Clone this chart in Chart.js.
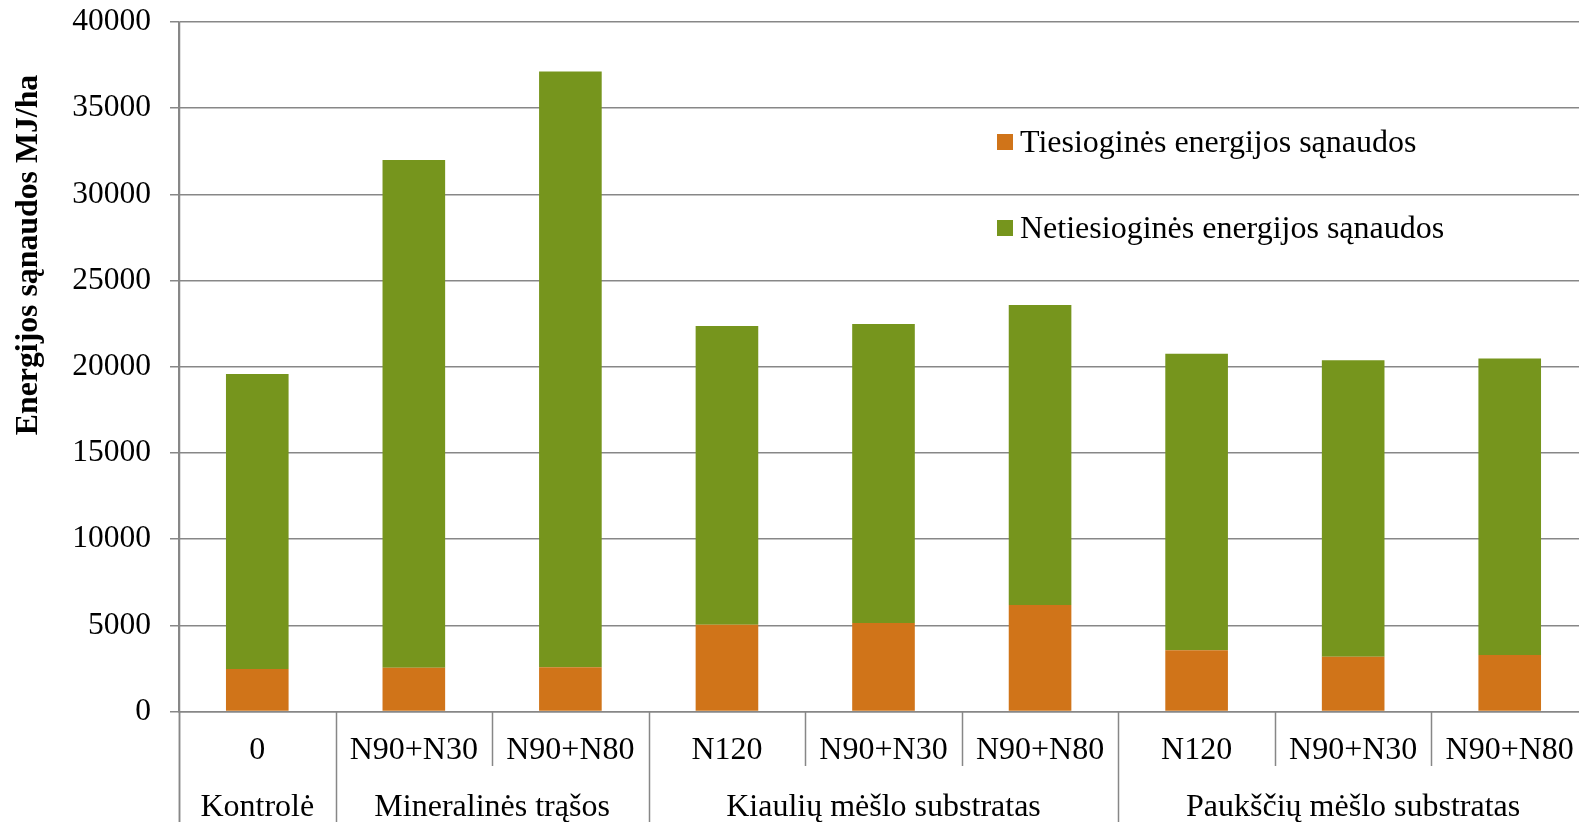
<!DOCTYPE html>
<html lang="lt">
<head>
<meta charset="utf-8">
<title>Energijos sąnaudos</title>
<script src="https://cdn.jsdelivr.net/npm/chart.js@4.4.1/dist/chart.umd.min.js"></script>
<style>
  html, body { margin: 0; padding: 0; background: #fff; overflow: hidden; }
  #wrap { position: relative; width: 1600px; height: 822px; }
</style>
</head>
<body>
<div id="wrap"><canvas id="chart"></canvas></div>
<script>
// Treatments (lower row) and their groups (upper row)
const categories = ['0', 'N90+N30', 'N90+N80', 'N120', 'N90+N30', 'N90+N80', 'N120', 'N90+N30', 'N90+N80'];
const groupLabels = ['Kontrolė', 'Mineralinės trąšos', 'Kiaulių mėšlo substratas', 'Paukščių mėšlo substratas'];
const groupSizes = [1, 2, 3, 3];

// Energy inputs, MJ/ha
const directEnergy   = [2460, 2540, 2560, 5030, 5130, 6180, 3550, 3180, 3280];
const indirectEnergy = [17120, 29450, 34570, 17330, 17350, 17400, 17200, 17190, 17200];

const seriesNames = ['Tiesioginės energijos sąnaudos', 'Netiesioginės energijos sąnaudos'];
const seriesColors = ['#D07419', '#76951D'];

const yMin = 0, yMax = 40000, yStep = 5000;
const yTitle = 'Energijos sąnaudos MJ/ha';

const FONT = '"Liberation Serif", "Times New Roman", serif';
const GRID = '#878787';

// Axis title, two-row category axis and legend
const decorations = {
  id: 'decorations',
  afterDraw(chart) {
    const { ctx, chartArea } = chart;
    const xs = chart.scales.x;
    const n = categories.length;
    const px = i => xs.getPixelForValue(i);
    const step = px(1) - px(0);
    const bounds = [];
    for (let i = 0; i <= n; i++) {
      bounds.push(i < n ? px(i) - step / 2 : px(n - 1) + step / 2);
    }
    const groupStarts = new Set([0]);
    let acc = 0;
    groupSizes.forEach(s => { acc += s; groupStarts.add(acc); });

    ctx.save();
    ctx.strokeStyle = GRID;
    ctx.lineWidth = 1.5;
    bounds.forEach((b, i) => {
      const x = Math.round(b) + 0.5;
      ctx.beginPath();
      ctx.moveTo(x, chartArea.bottom);
      ctx.lineTo(x, groupStarts.has(i) ? chart.height : 766);
      ctx.stroke();
    });
    // left axis line running down through the label rows
    ctx.beginPath();
    ctx.moveTo(Math.round(chartArea.left) + 0.5, chartArea.top);
    ctx.lineTo(Math.round(chartArea.left) + 0.5, chart.height);
    ctx.stroke();

    ctx.fillStyle = '#000';
    ctx.textAlign = 'center';
    ctx.textBaseline = 'alphabetic';
    ctx.font = '32px ' + FONT;
    categories.forEach((c, i) => ctx.fillText(c, px(i), 759));

    let start = 0;
    groupLabels.forEach((g, k) => {
      const end = start + groupSizes[k];
      ctx.fillText(g, (bounds[start] + bounds[end]) / 2, 816);
      start = end;
    });

    // legend
    ctx.textAlign = 'left';
    chart.data.datasets.forEach((ds, k) => {
      const top = 134 + k * 86;
      ctx.fillStyle = ds.backgroundColor;
      ctx.fillRect(997, top, 16, 16);
      ctx.fillStyle = '#000';
      ctx.fillText(ds.label, 1020, top + 17.5);
    });

    // y axis title
    ctx.translate(37, 255);
    ctx.rotate(-Math.PI / 2);
    ctx.textAlign = 'center';
    ctx.font = 'bold 31.8px ' + FONT;
    ctx.fillText(yTitle, 0, 0);
    ctx.restore();
  }
};

new Chart(document.getElementById('chart'), {
  type: 'bar',
  data: {
    labels: categories,
    datasets: [
      { label: seriesNames[0], data: directEnergy, backgroundColor: seriesColors[0] },
      { label: seriesNames[1], data: indirectEnergy, backgroundColor: seriesColors[1] }
    ]
  },
  options: {
    responsive: true,
    maintainAspectRatio: false,
    animation: false,
    devicePixelRatio: 1,
    layout: { padding: { left: 0, right: 12, top: 22, bottom: 0 } },
    datasets: { bar: { barPercentage: 0.4, categoryPercentage: 1.0, borderWidth: 0 } },
    plugins: { legend: { display: false }, tooltip: { enabled: false } },
    scales: {
      x: {
        stacked: true,
        offset: true,
        grid: { display: false },
        border: { display: true, color: GRID, width: 1.5 },
        ticks: { display: false },
        afterFit: s => { s.height = 110.5; }
      },
      y: {
        stacked: true,
        min: yMin,
        max: yMax,
        ticks: {
          stepSize: yStep,
          padding: 19,
          color: '#000',
          font: { family: FONT, size: 31.5 },
          callback: v => String(v)
        },
        grid: { color: GRID, lineWidth: 1.5, tickLength: 9, tickColor: GRID },
        border: { display: true, color: GRID, width: 1.5 },
        afterFit: s => { s.width = 179; s.paddingTop = 0; s.paddingBottom = 0; }
      }
    }
  },
  plugins: [decorations]
});
</script>
</body>
</html>
